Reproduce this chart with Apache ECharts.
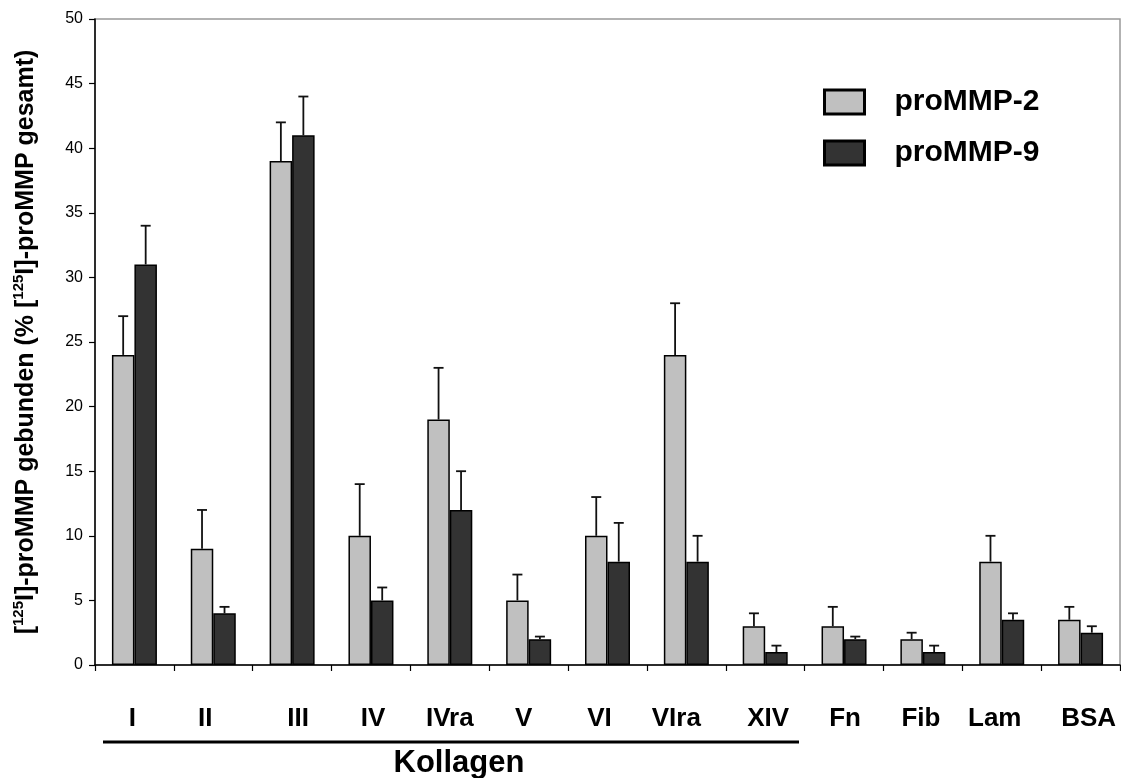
<!DOCTYPE html>
<html>
<head>
<meta charset="utf-8">
<script src="https://cdn.jsdelivr.net/npm/echarts@6/dist/echarts.min.js"></script>
<style>
html,body{margin:0;padding:0;background:#fff;}
#chart{width:1121px;height:778px;}
</style>
</head>
<body>
<div id="chart"></div>
<script>
const categories = ['I','II','III','IV','IVra','V','VI','VIra','XIV','Fn','Fib','Lam','BSA'];
const seriesNames = ['proMMP-2','proMMP-9'];
const mmp2 = [24, 9, 39, 10, 19, 5, 10, 24, 3, 3, 2, 8, 3.5];
const mmp2Err = [3, 3, 3, 4, 4, 2, 3, 4, 1, 1.5, 0.5, 2, 1];
const mmp9 = [31, 4, 41, 5, 12, 2, 8, 8, 1, 2, 1, 3.5, 2.5];
const mmp9Err = [3, 0.5, 3, 1, 3, 0.2, 3, 2, 0.5, 0.2, 0.5, 0.5, 0.5];
const yTicks = [0, 5, 10, 15, 20, 25, 30, 35, 40, 45, 50];
const groupLabel = 'Kollagen';

// layout-only: horizontal nudges of category labels (px)
const labelShift = [-2, -8, 6, 2, 0, -5, -8, -10, 3, 1, -2, -7, 8];

const BAR_W = 22.5;
const FONT = '"Liberation Sans", Arial, Helvetica, sans-serif';

const labelRich = {};
labelShift.forEach((s, i) => {
  labelRich['c' + i] = {
    fontFamily: FONT, fontSize: 26, fontWeight: 'bold', color: '#000',
    padding: s >= 0 ? [0, 0, 0, 2 * s] : [0, -2 * s, 0, 0]
  };
});

function errRender(sign) {
  return function (params, api) {
    const i = api.value(0), v = api.value(1), e = api.value(2);
    const base = api.coord([i, v]);
    const top = api.coord([i, v + e]);
    const cx = base[0] + sign * BAR_W / 2;
    const cap = 5;
    const st = { stroke: '#111', lineWidth: 1.8 };
    return {
      type: 'group',
      children: [
        { type: 'line', shape: { x1: cx, y1: base[1], x2: cx, y2: top[1] }, style: st },
        { type: 'line', shape: { x1: cx - cap, y1: top[1], x2: cx + cap, y2: top[1] }, style: st }
      ]
    };
  };
}

const chart = echarts.init(document.getElementById('chart'), null, { renderer: 'canvas' });
chart.setOption({
  backgroundColor: '#fff',
  animation: false,
  textStyle: { fontFamily: FONT },
  grid: { left: 95, right: 1, top: 19, bottom: 113, show: true, borderColor: '#999', borderWidth: 1.5, backgroundColor: 'transparent' },
  legend: {
    data: seriesNames,
    orient: 'vertical',
    left: 823, top: 87, padding: 0,
    itemWidth: 40, itemHeight: 24, itemGap: 21,
    icon: 'rect',
    itemStyle: { borderColor: '#000', borderWidth: 3 },
    textStyle: { fontFamily: FONT, fontSize: 30, fontWeight: 'bold', color: '#000', padding: [0, 0, 0, 25] },
    selectedMode: false
  },
  xAxis: {
    type: 'category',
    data: categories,
    axisLine: { lineStyle: { color: '#000', width: 1.5 } },
    axisTick: { show: true, length: 6, lineStyle: { color: '#000', width: 1.2 } },
    axisLabel: {
      interval: 0, margin: 41, fontFamily: FONT, fontSize: 26, fontWeight: 'bold', color: '#000',
      formatter: function (val, idx) { return '{c' + idx + '|' + val + '}'; },
      rich: labelRich
    }
  },
  yAxis: {
    type: 'value',
    min: yTicks[0], max: yTicks[yTicks.length - 1], interval: yTicks[1] - yTicks[0],
    splitLine: { show: false },
    axisLine: { show: true, lineStyle: { color: '#000', width: 1.5 } },
    axisTick: { show: true, length: 6, lineStyle: { color: '#000', width: 1.2 } },
    axisLabel: { margin: 12, fontFamily: FONT, fontSize: 16, color: '#000' },
    name: '{b|[}{s|125}{b|I]-proMMP gebunden (% [}{s|125}{b|I]-proMMP gesamt)}',
    nameLocation: 'middle',
    nameRotate: 90,
    nameGap: 56,
    nameTextStyle: {
      rich: {
        b: { fontFamily: FONT, fontSize: 25, fontWeight: 'bold', color: '#000', lineHeight: 28, verticalAlign: 'bottom' },
        s: { fontFamily: FONT, fontSize: 15, fontWeight: 'bold', color: '#000', lineHeight: 16, verticalAlign: 'top' }
      }
    }
  },
  series: [
    {
      name: seriesNames[0], type: 'bar', data: mmp2, barWidth: BAR_W, barGap: '0%',
      itemStyle: { color: '#c0c0c0', borderColor: '#000', borderWidth: 1.5 }
    },
    {
      name: seriesNames[1], type: 'bar', data: mmp9, barWidth: BAR_W, barGap: '0%',
      itemStyle: { color: '#333333', borderColor: '#000', borderWidth: 1.5 }
    },
    {
      name: seriesNames[0] + ' err', type: 'custom', renderItem: errRender(-1), z: 5,
      encode: { x: 0, y: 1 },
      data: mmp2.map((v, i) => [i, v, mmp2Err[i]])
    },
    {
      name: seriesNames[1] + ' err', type: 'custom', renderItem: errRender(1), z: 5,
      encode: { x: 0, y: 1 },
      data: mmp9.map((v, i) => [i, v, mmp9Err[i]])
    }
  ],
  graphic: [
    { type: 'line', shape: { x1: 103, y1: 742, x2: 799, y2: 742 }, style: { stroke: '#000', lineWidth: 3 } },
    { type: 'text', x: 459, y: 763, style: { text: groupLabel, font: 'bold 31px ' + FONT, fill: '#000', align: 'center', verticalAlign: 'middle' } }
  ]
});
</script>
</body>
</html>
